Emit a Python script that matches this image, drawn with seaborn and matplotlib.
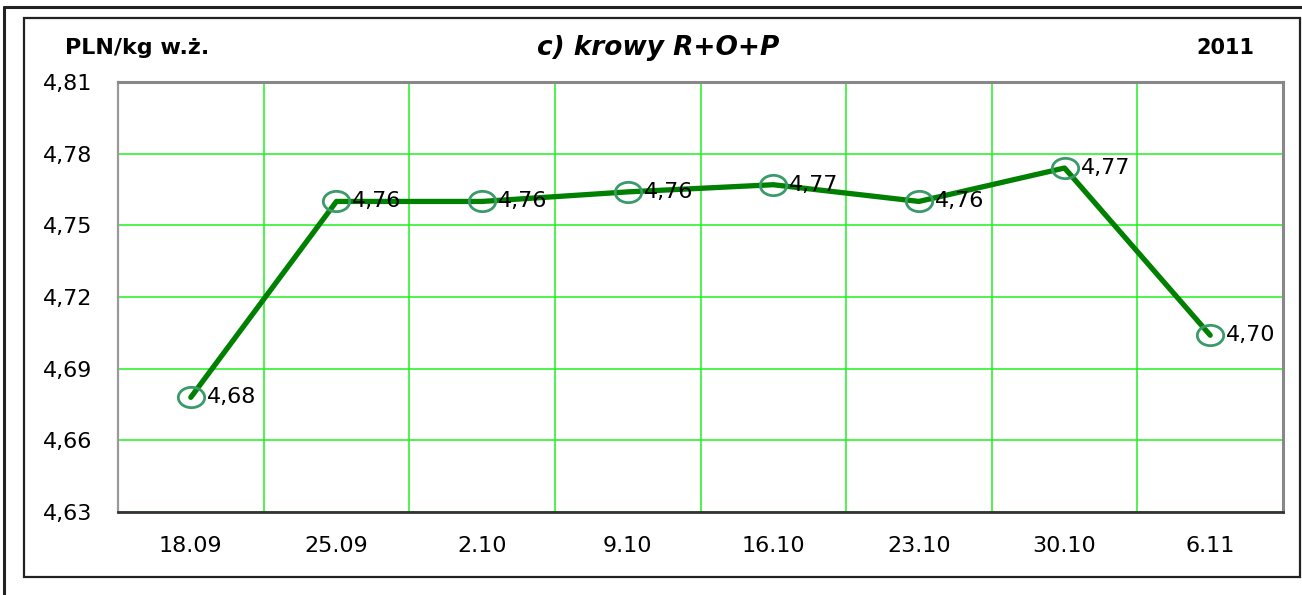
import numpy as np
import pandas as pd
import matplotlib
matplotlib.use("Agg")
import matplotlib.pyplot as plt
import seaborn as sns
from matplotlib.path import Path
from matplotlib.transforms import Affine2D
from matplotlib.lines import Line2D
from matplotlib.patches import Rectangle

sns.set_style("white")
plt.rcParams['font.family'] = ['DejaVu Sans']
plt.rcParams['text.color'] = 'black'
plt.rcParams['xtick.color'] = 'black'
plt.rcParams['ytick.color'] = 'black'

# --- dane ---
dates = ['18.09', '25.09', '2.10', '9.10', '16.10', '23.10', '30.10', '6.11']
prices = [4.678, 4.760, 4.760, 4.764, 4.767, 4.760, 4.774, 4.704]
price_labels = ['4,68', '4,76', '4,76', '4,76', '4,77', '4,76', '4,77', '4,70']
y_ticks = [4.63, 4.66, 4.69, 4.72, 4.75, 4.78, 4.81]

df = pd.DataFrame({'data': dates, 'cena': prices})

fig = plt.figure(figsize=(13.02, 5.95), dpi=100)
ax = fig.add_axes([118 / 1302, 1 - 512 / 595, (1283 - 118) / 1302, (512 - 82) / 595])

# ramki wokol wykresu
fig.patches.append(Rectangle((24 / 1302, 1 - 577 / 595), (1300 - 24) / 1302, (577 - 18) / 595,
                             transform=fig.transFigure, fill=False, edgecolor='#222222', linewidth=1.6))
fig.lines.append(Line2D([4 / 1302, 1], [1 - 7 / 595, 1 - 7 / 595], transform=fig.transFigure,
                        color='#222222', linewidth=2.2))
fig.lines.append(Line2D([4 / 1302, 4 / 1302], [0, 1 - 7 / 595], transform=fig.transFigure,
                        color='#222222', linewidth=2.2))

ellipse = Path.unit_circle().transformed(Affine2D().scale(1.3, 1.0))

sns.lineplot(data=df, x='data', y='cena', sort=False, ax=ax, color='#008000', linewidth=3.8,
             marker=ellipse, markersize=19, markerfacecolor='none', markeredgecolor='#3a9a6a',
             markeredgewidth=2.0, zorder=3)

for i, (v, lab) in enumerate(zip(prices, price_labels)):
    ax.annotate(lab, (i, v), xytext=(11.5, 0), textcoords='offset points',
                ha='left', va='center', fontsize=16, color='black', zorder=4)

ax.set_xlim(-0.5, len(dates) - 0.5)
ax.set_ylim(4.63, 4.81)

# siatka: poziome linie przy etykietach, pionowe na granicach kategorii
ax.set_yticks(y_ticks)
ax.set_yticklabels([f"{t:.2f}".replace('.', ',') for t in y_ticks], fontsize=16)
ax.set_xticks(np.arange(-0.5, len(dates)))
ax.set_xticklabels([])
ax.set_xticks(np.arange(len(dates)), labels=dates, minor=True)
ax.tick_params(axis='x', which='minor', length=0, labelsize=16, pad=17)
ax.tick_params(axis='x', which='major', length=4.5, width=1.2, color='#222222', direction='out')
ax.tick_params(axis='y', length=4.5, width=1.2, color='red', direction='out', pad=14)
ax.grid(True, which='major', color='#1ef01e', linewidth=1.1)
ax.set_axisbelow(True)
ax.set_xlabel('')
ax.set_ylabel('')

for side in ['top', 'right']:
    ax.spines[side].set_color('#888888')
    ax.spines[side].set_linewidth(2.2)
ax.spines['left'].set_color('#999999')
ax.spines['left'].set_linewidth(1.6)
ax.spines['bottom'].set_color('#333333')
ax.spines['bottom'].set_linewidth(2.0)

fig.text(65 / 1302, 1 - 48 / 595, 'PLN/kg w.ż.', ha='left', va='center',
         fontsize=16, fontweight='bold')
fig.text(658 / 1302, 1 - 48 / 595, 'c) krowy R+O+P', ha='center', va='center',
         fontsize=19, fontweight='bold', fontstyle='italic')
fig.text(1254 / 1302, 1 - 48 / 595, '2011', ha='right', va='center',
         fontsize=15, fontweight='bold')

fig.savefig('out.png', dpi=100)
